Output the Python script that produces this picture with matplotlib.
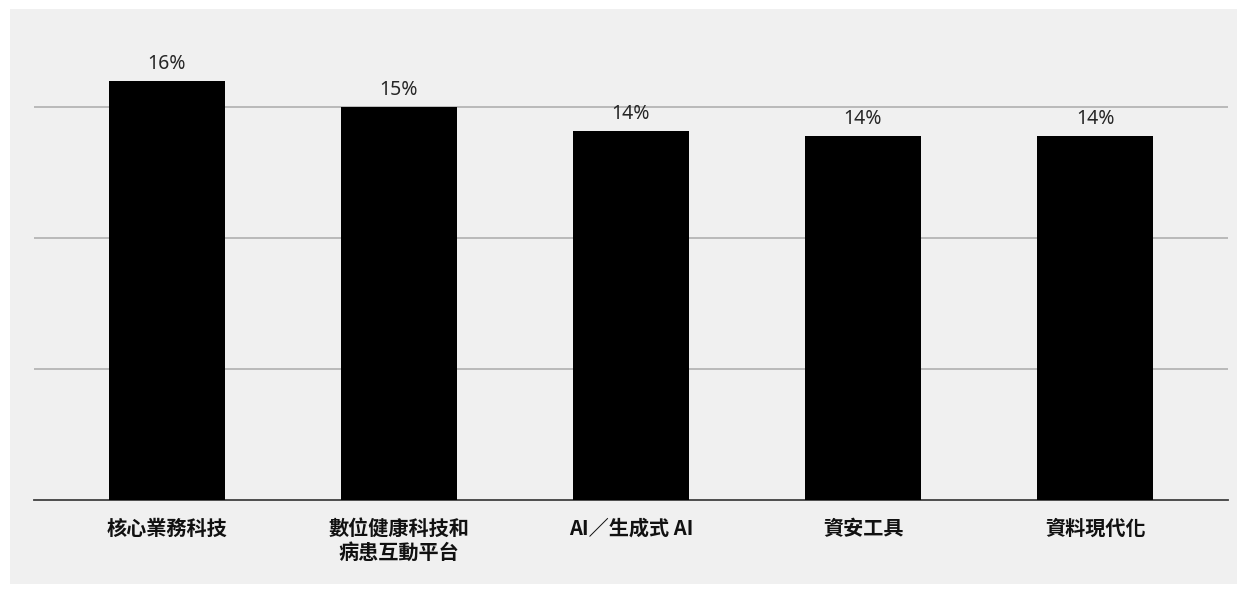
import matplotlib
matplotlib.use("Agg")
import matplotlib.pyplot as plt
from matplotlib.patches import Rectangle

# ==========================================
# DATA
# ==========================================
categories = ["核心業務科技", "數位健康科技和\n病患互動平台", "AI／生成式 AI", "資安工具", "資料現代化"]
values = [16.0, 15.0, 14.1, 13.9, 13.9]
labels = ["16%", "15%", "14%", "14%", "14%"]

plt.rcParams["font.family"] = ["Noto Sans CJK TC", "DejaVu Sans"]

W, H = 1247, 594
fig = plt.figure(figsize=(W / 100, H / 100), dpi=100)
fig.patch.set_facecolor("white")

# gray panel behind everything
fig.patches.append(Rectangle((10 / W, 10 / H), 1227 / W, 575 / H,
                             transform=fig.transFigure, facecolor="#f0f0f0",
                             edgecolor="none", zorder=-10))

# axes placed in pixel coordinates
left, right, bottom, top = 34, 1228, 500, 20
ax = fig.add_axes([left / W, 1 - bottom / H, (right - left) / W, (bottom - top) / H])
ax.set_facecolor("none")
ax.set_zorder(5)

x = list(range(len(categories)))
ax.bar(x, values, width=0.5, color="black", zorder=3)

ax.set_xlim(-0.573, len(categories) - 1 + 0.573)
ax.set_ylim(0, 480 / 26.2)
ax.set_yticks([5, 10, 15])
ax.yaxis.grid(True, color="#b0b0b0", linewidth=1.2)
ax.tick_params(axis="y", length=0, labelleft=False)

for s in ["top", "right", "left"]:
    ax.spines[s].set_visible(False)
ax.spines["bottom"].set_color("#404040")
ax.spines["bottom"].set_linewidth(1.3)

ax.set_xticks(x)
ax.set_xticklabels(categories, fontsize=14.5, fontweight="bold", color="#111111",
                   linespacing=1.15)
ax.tick_params(axis="x", length=0, pad=13)

for xi, v, lab in zip(x, values, labels):
    ax.annotate(lab, (xi, v), xytext=(0, 5), textcoords="offset points",
                ha="center", va="bottom", fontsize=14, color="#262626",
                family=["Noto Sans", "DejaVu Sans"])

fig.savefig("out.png", dpi=100)
